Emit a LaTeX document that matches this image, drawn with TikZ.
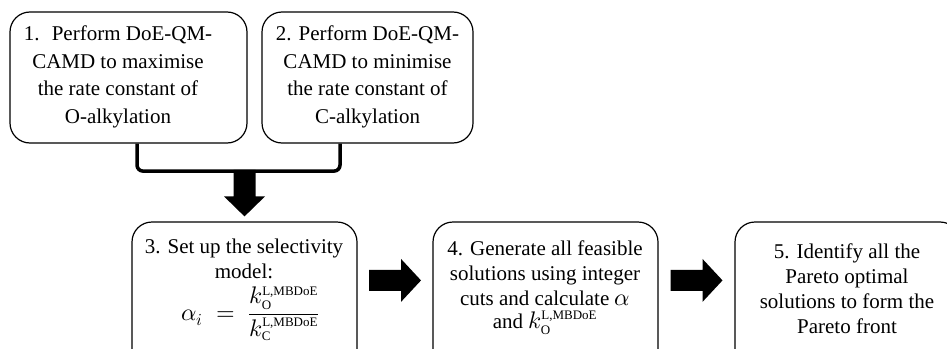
\documentclass[tikz,border=0pt]{standalone}
\usepackage{fontspec}
\usepackage{unicode-math}
\setmainfont{Liberation Serif}
\setmathfont{Latin Modern Math}
\usetikzlibrary{calc}

\tikzset{
  stepbox/.style={draw, line width=1.2pt, rounded corners=20pt, inner sep=0pt},
  steptext/.style={align=center, inner sep=0pt},
  toptext/.style={steptext, font=\fontsize{21}{27.5}\selectfont},
  lowtext/.style={steptext, font=\fontsize{21}{25}\selectfont},
  mathtext/.style={inner sep=0pt, font=\fontsize{24}{28}\selectfont},
  bracket/.style={line width=3.5pt, rounded corners=6pt},
  % block arrow pointing right, centred on its origin
  blockarrow/.pic={\fill (-26,-10.5) -- (6,-10.5) -- (6,-21.5) -- (26,0)
                     -- (6,21.5) -- (6,10.5) -- (-26,10.5) -- cycle;}
}

% small upright labels for the rate constants
\newcommand{\lbl}[1]{\mbox{\fontsize{13}{13}\selectfont #1}}
\newcommand{\kL}[1]{k_{\lbl{#1}}^{\lbl{L,MBDoE}}}
% inline maths at the size of the equation
\newcommand{\eqm}[1]{{\fontsize{24}{25}\selectfont$#1$}}

\begin{document}
\begin{tikzpicture}[x=1pt,y=-1pt]
\useasboundingbox (0,0) rectangle (947,348);
\clip (0,0) rectangle (947,348);

% upper row: the two design steps
\node[stepbox, minimum width=237pt, minimum height=131pt] (b1) at (128.5,77.5) {};
\node[stepbox, minimum width=211pt, minimum height=131pt] (b2) at (367.5,77.5) {};
\node[toptext] (t1) at (118,77) {1.~ Perform DoE-QM-\\CAMD to maximise\\the rate constant of\\O-alkylation};
\node[toptext] (t2) at (367.5,77) {2. Perform DoE-QM-\\CAMD to minimise\\the rate constant of\\C-alkylation};

% lower row: selectivity model, enumeration, Pareto front
\node[stepbox, minimum width=225pt, minimum height=160pt] (b3) at (244.5,302) {};
\node[stepbox, minimum width=225pt, minimum height=160pt] (b4) at (545.5,302) {};
\node[stepbox, minimum width=225pt, minimum height=160pt] (b5) at (847.5,302) {};

\node[lowtext, anchor=north] (t3) at (244,238.5)
  {3. Set up the selectivity\\model:};
\node[mathtext, anchor=base west] (m3) at (181,320)
  {$\displaystyle \alpha_i\;=\;\frac{\kL{O}}{\kL{C}}$};
\node[lowtext, anchor=north] (t4) at (545,240.5)
  {4. Generate all feasible\\solutions using integer\\cuts and calculate \eqm{\alpha}\\[-2pt]and \eqm{\kL{O}}};
\node[lowtext, anchor=north] (t5) at (847,243.5)
  {5. Identify all the\\Pareto optimal\\solutions to form the\\Pareto front};

% bracket joining steps 1 and 2
\coordinate (j1) at ($(b1.south)+(8.5,0)$);
\coordinate (j2) at ($(b2.south)+(-27.5,0)$);
\draw[bracket] (j1) -- ++(0,27.5) -| (j2);

% block arrows
\fill ($(b3.north)+(0,-5)$) -- ++(-20.5,-20) -- ++(9.5,0) -- ++(0,-26.5)
      -- ++(22,0) -- ++(0,26.5) -- ++(9.5,0) -- cycle;
\pic at ($($(b3.north east)!0.5!(b4.north west)$)+(0,59)$) {blockarrow};
\pic at ($($(b4.north east)!0.5!(b5.north west)$)+(0,59)$) {blockarrow};
\end{tikzpicture}
\end{document}
